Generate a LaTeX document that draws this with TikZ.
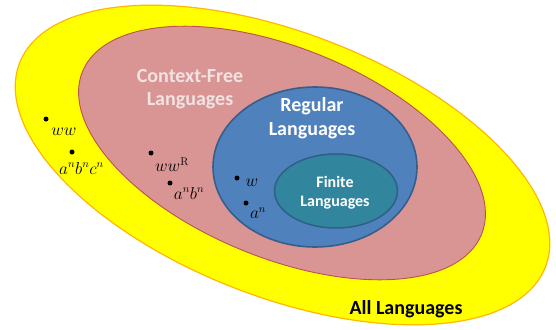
\documentclass[tikz,border=0pt]{standalone}
\usepackage{fontspec}
\setsansfont{Carlito}
\usepackage{tikz}
\usetikzlibrary{shapes.geometric, positioning}

\definecolor{allfill}{HTML}{FFFF00}
\definecolor{alldraw}{HTML}{FFB800}
\definecolor{cffill}{HTML}{D99594}
\definecolor{cfdraw}{HTML}{C0504D}
\definecolor{regfill}{HTML}{4F81BD}
\definecolor{regdraw}{HTML}{385D8A}
\definecolor{finfill}{HTML}{31859C}
\definecolor{findraw}{HTML}{2F5F88}
\definecolor{cftext}{HTML}{F2E2E2}

\begin{document}
\begin{tikzpicture}[
    x=1pt, y=-1pt,
    lang/.style={ellipse, inner sep=0pt},
    title/.style={align=center, text=white},
    member/.style={circle, fill=black, inner sep=0pt, minimum size=5pt},
    word/.style={inner sep=0pt, font=\fontsize{16}{18}\selectfont}
]
\useasboundingbox (0,0) rectangle (556,329);

% the four classes
\node[lang, fill=allfill, draw=alldraw, line width=1.2pt, minimum width=564, minimum height=264, rotate=-21.2] (all) at (282.5,165) {};
\node[lang, fill=cffill, draw=cfdraw, line width=0.9pt, minimum width=431, minimum height=210, rotate=-22.2] (cfl) at (282,153) {};
\node[lang, fill=regfill, draw=regdraw, line width=1.6pt, minimum width=204, minimum height=160] (reg) at (315,167) {};
\node[lang, fill=finfill, draw=findraw, line width=1.5pt, minimum width=123, minimum height=74] (fin) at (336,191) {};

% labels
\node[title, text=cftext, font=\sffamily\bfseries\fontsize{20}{23}\selectfont] (cfltext) at (190,89) {Context-Free\\Languages};
\node[title, font=\sffamily\bfseries\fontsize{20}{24}\selectfont] (regtext) at (312,118) {Regular\\Languages};
\node[title, font=\sffamily\bfseries\fontsize{16}{19}\selectfont] (fintext) at (335,193) {Finite\\Languages};
\node[title, text=black, font=\sffamily\bfseries\fontsize{20}{23}\selectfont] (alltext) at (406,309) {All Languages};

% sample languages
\node[member] (ww) at (46,119) {};
\node[word] (wwtext) at (64,132) {$ww$};
\node[member] (abc) at (72,152) {};
\node[word] (abctext) at (81.5,168) {$a^nb^nc^n$};
\node[member] (wwr) at (151,153) {};
\node[word] (wwrtext) at (172,165) {$ww^{\mathrm{R}}$};
\node[member] (ab) at (170,183) {};
\node[word] (abtext) at (189,193) {$a^nb^n$};
\node[member] (w) at (237,178) {};
\node[word] (wtext) at (252,183) {$w$};
\node[member] (an) at (246,203) {};
\node[word] (antext) at (258,213.5) {$a^n$};

\end{tikzpicture}
\end{document}
